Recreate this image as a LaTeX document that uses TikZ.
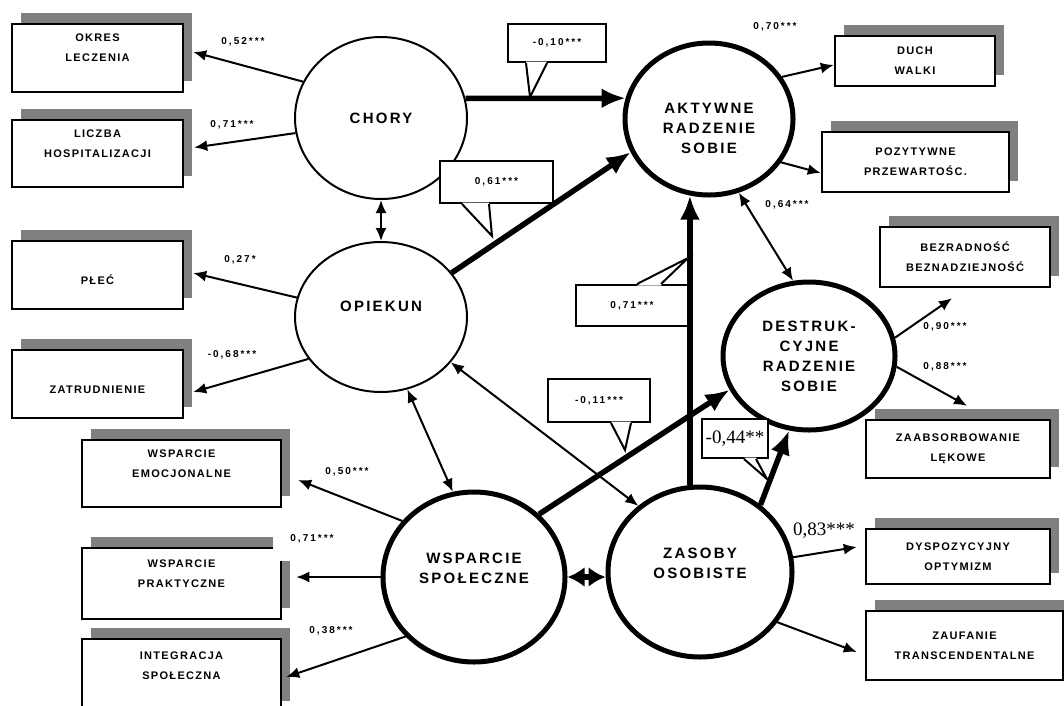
\documentclass[tikz,border=0pt]{standalone}
\usepackage{fontspec}
\setmainfont{Liberation Sans}
\newfontfamily\pixfont[LetterSpace=15]{Liberation Sans}
\newfontfamily\pixbox[LetterSpace=12]{Liberation Sans}
\newfontfamily\pixwide[LetterSpace=20]{Liberation Sans}
\newfontfamily\serfont{Liberation Serif}
\usetikzlibrary{shapes.geometric,shadows,arrows.meta}
\tikzset{
  thinell/.style={ellipse, draw, line width=2pt, inner sep=0pt, fill=white},
  thickell/.style={ellipse, draw, line width=5pt, inner sep=0pt, fill=white},
  ovaltxt/.style={font=\pixfont\bfseries\fontsize{15}{20}\selectfont, align=center, inner sep=0pt},
  obsbox/.style={rectangle, draw, line width=2.5pt, fill=white, inner sep=0pt, align=center,
    font=\pixbox\bfseries\fontsize{11}{20}\selectfont,
    general shadow={fill=gray, shadow xshift=9pt, shadow yshift=11pt}},
  coef/.style={font=\pixwide\bfseries\fontsize{10}{12}\selectfont, inner sep=1pt},
  serifcoef/.style={font=\serfont\fontsize{19}{22}\selectfont, inner sep=0pt},
  callrect/.style={rectangle, draw, line width=2pt, fill=white, inner sep=0pt,
    font=\pixwide\bfseries\fontsize{10}{12}\selectfont},
  pointerfill/.style={fill=white},
  pointerline/.style={draw, line width=2pt, line join=miter},
  thinarr/.style={line width=2pt, -{Latex[length=13pt,width=11pt]}},
  thinboth/.style={line width=2pt, {Latex[length=13pt,width=11pt]}-{Latex[length=13pt,width=11pt]}},
  thickarr/.style={line width=5.5pt, -{Latex[length=24pt,width=20pt]}},
  thickboth/.style={line width=5.5pt, {Latex[length=17pt,width=20pt]}-{Latex[length=17pt,width=20pt]}},
}
\begin{document}
\begin{tikzpicture}[x=1pt,y=-1pt]
\useasboundingbox (0,0) rectangle (1064,705);
\clip (0,0) rectangle (1064,705);
\fill[white] (0,0) rectangle (1064,705);

% latent / person ellipses
\node[thinell, minimum width=172pt, minimum height=162pt] (chory) at (381,118) {};
\node[thinell, minimum width=172pt, minimum height=150pt] (opiekun) at (381,317) {};
\node[thickell, minimum width=168pt, minimum height=152pt] (aktywne) at (709,119) {};
\node[thickell, minimum width=172pt, minimum height=148pt] (destruk) at (809,356) {};
\node[thickell, minimum width=182pt, minimum height=170pt] (wsparcie) at (474,577) {};
\node[thickell, minimum width=184pt, minimum height=170pt] (zasoby) at (700,572) {};

\node[ovaltxt] (choryt) at (chory.center) {CHORY};
\node[ovaltxt] (opiekunt) at ([yshift=11pt]opiekun.center) {OPIEKUN};
\node[ovaltxt] (aktywnet) at ([yshift=-9pt]aktywne.center) {AKTYWNE\\RADZENIE\\SOBIE};
\node[ovaltxt] (destrukt) at (destruk.center) {DESTRUK-\\CYJNE\\RADZENIE\\SOBIE};
\node[ovaltxt] (wsparciet) at ([yshift=9pt]wsparcie.center) {WSPARCIE\\SPOŁECZNE};
\node[ovaltxt] (zasobyt) at ([yshift=9pt]zasoby.center) {ZASOBY\\OSOBISTE};

% observed boxes
\node[obsbox, minimum width=171pt, minimum height=68pt] (b1) at (97.5,58) {OKRES\\LECZENIA\\~};
\node[obsbox, minimum width=171pt, minimum height=67pt] (b2) at (97.5,153.5) {LICZBA\\HOSPITALIZACJI\\~};
\node[obsbox, minimum width=171pt, minimum height=68pt] (b3) at (97.5,275) {~\\PŁEĆ};
\node[obsbox, minimum width=171pt, minimum height=68pt] (b4) at (97.5,384) {~\\ZATRUDNIENIE};
\node[obsbox, minimum width=199pt, minimum height=67pt] (b5) at (181.5,473.5) {WSPARCIE\\EMOCJONALNE\\~};
\node[obsbox, minimum width=199pt, minimum height=71pt] (b6) at (181.5,583.5) {WSPARCIE\\PRAKTYCZNE\\~};
\node[obsbox, minimum width=199pt, minimum height=73pt] (b7) at (181.5,675.5) {INTEGRACJA\\SPOŁECZNA\\~};
\node[obsbox, minimum width=160pt, minimum height=50pt] (b8) at (915,61) {DUCH\\WALKI};
\node[obsbox, minimum width=187pt, minimum height=60pt] (b9) at (915.5,162) {POZYTYWNE\\PRZEWARTOŚC.};
\node[obsbox, minimum width=170pt, minimum height=60pt] (b10) at (965,257) {BEZRADNOŚĆ\\BEZNADZIEJNOŚĆ};
\node[obsbox, minimum width=184pt, minimum height=58pt] (b11) at (958,449) {ZAABSORBOWANIE\\LĘKOWE};
\node[obsbox, minimum width=184pt, minimum height=55pt] (b12) at (958,556.5) {DYSPOZYCYJNY\\OPTYMIZM};
\node[obsbox, minimum width=197pt, minimum height=69pt] (b13) at (964.5,645.5) {ZAUFANIE\\TRANSCENDENTALNE};

% connectors
\draw[thinarr] (chory.155) -- ([xshift=9pt,yshift=6pt]b1.east);
\draw[thinarr] (chory.190) -- ([xshift=10pt,yshift=6pt]b2.east);
\draw[thinboth] (chory.south) -- (opiekun.north);
\draw[thickarr] (chory.13) -- (aktywne.166);
\draw[thickarr] (opiekun.32) -- (aktywne.203);
\draw[thinarr] (opiekun.167) -- ([xshift=9pt,yshift=2pt]b3.east);
\draw[thinarr] (opiekun.210) -- ([xshift=9pt,yshift=-8pt]b4.east);
\draw[thinboth] (opiekun.290) -- (wsparcie.104);
\draw[thinboth] (opiekun.327) -- (zasoby.133);
\draw[thickarr] (wsparcie.44) -- (destruk.203);
\draw[thickarr] (aktywne.256 |- zasoby.north) -- (aktywne.256);
\draw[thickarr] (zasoby.48) -- (destruk.255);
\draw[thickboth] (wsparcie.east) -- (zasoby.west |- wsparcie.east);
\draw[thinboth] (aktywne.292) -- (destruk.102);
\draw[thinarr] (aktywne.30) -- ([yshift=-4pt]b8.west);
\draw[thinarr] (aktywne.329) -- ([yshift=-11pt]b9.west);
\draw[thinarr] (destruk.12) -- ([xshift=-13pt,yshift=-10pt]b10.south);
\draw[thinarr] (destruk.353) -- ([xshift=9pt,yshift=13pt]b11.north);
\draw[thinarr] (wsparcie.142) -- ([xshift=16pt,yshift=-6.5pt]b5.east);
\draw[thinarr] (wsparcie.west) -- ([xshift=14pt]b6.east |- wsparcie.west);
\draw[thinarr] (wsparcie.221) -- ([xshift=4pt,yshift=-1.5pt]b7.east);
\draw[thinarr] (zasoby.9) -- ([xshift=-8pt,yshift=9.5pt]b12.west);
\draw[thinarr] (zasoby.327) -- ([xshift=-8pt,yshift=-6.5pt]b13.west);

% coefficient labels
\node[coef] (k1) at (243,42) {0,52***};
\node[coef] (k2) at (232,125) {0,71***};
\node[coef] (k3) at (240,260) {0,27*};
\node[coef] (k4) at (232,355) {-0,68***};
\node[coef] (k5) at (775,27) {0,70***};
\node[coef] (k6) at (787,205) {0,64***};
\node[coef] (k7) at (945,327) {0,90***};
\node[coef] (k8) at (945,367) {0,88***};
\node[coef] (k9) at (347,472) {0,50***};
\node[coef, fill=white, inner xsep=17pt, inner ysep=18pt] (k10) at (312,539) {0,71***};
\node[coef] (k11) at (331,631) {0,38***};
\node[serifcoef] (k12) at (824,531) {0,83***};

% callouts: box + pointer
\node[callrect, minimum width=98pt, minimum height=38pt] (c1) at (557,43) {-0,10***};
\coordinate (c1tip) at (530,97);
\fill[pointerfill] ([xshift=19pt,yshift=1.5pt]c1.south west) -- (c1tip) -- ([xshift=40pt,yshift=1.5pt]c1.south west) -- cycle;
\draw[pointerline] ([xshift=19pt]c1.south west) -- (c1tip) -- ([xshift=40pt]c1.south west);

\node[callrect, minimum width=113pt, minimum height=42pt] (c2) at (496.5,182) {0,61***};
\coordinate (c2tip) at (492,236);
\fill[pointerfill] ([xshift=23pt,yshift=1.5pt]c2.south west) -- (c2tip) -- ([xshift=50pt,yshift=1.5pt]c2.south west) -- cycle;
\draw[pointerline] ([xshift=23pt]c2.south west) -- (c2tip) -- ([xshift=50pt]c2.south west);

\node[callrect, minimum width=112pt, minimum height=41pt] (c3) at (632,305.5) {0,71***};
\coordinate (c3tip) at (688,258);
\fill[pointerfill] ([xshift=62pt,yshift=-1.5pt]c3.north west) -- (c3tip) -- ([xshift=86pt,yshift=-1.5pt]c3.north west) -- cycle;
\draw[pointerline] ([xshift=62pt]c3.north west) -- (c3tip) -- ([xshift=86pt]c3.north west);

\node[callrect, minimum width=102pt, minimum height=43pt] (c4) at (599,400.5) {-0,11***};
\coordinate (c4tip) at (625,450);
\fill[pointerfill] ([xshift=64pt,yshift=1.5pt]c4.south west) -- (c4tip) -- ([xshift=84pt,yshift=1.5pt]c4.south west) -- cycle;
\draw[pointerline] ([xshift=64pt]c4.south west) -- (c4tip) -- ([xshift=84pt]c4.south west);

\node[callrect, minimum width=66pt, minimum height=39pt, font=\serfont\fontsize{19}{22}\selectfont] (c5) at (735,438.5) {-0,44**};
\coordinate (c5tip) at (767,479);
\fill[pointerfill] ([xshift=43pt,yshift=1.5pt]c5.south west) -- (c5tip) -- ([xshift=55pt,yshift=1.5pt]c5.south west) -- cycle;
\draw[pointerline] ([xshift=43pt]c5.south west) -- (c5tip) -- ([xshift=55pt]c5.south west);
\end{tikzpicture}
\end{document}
